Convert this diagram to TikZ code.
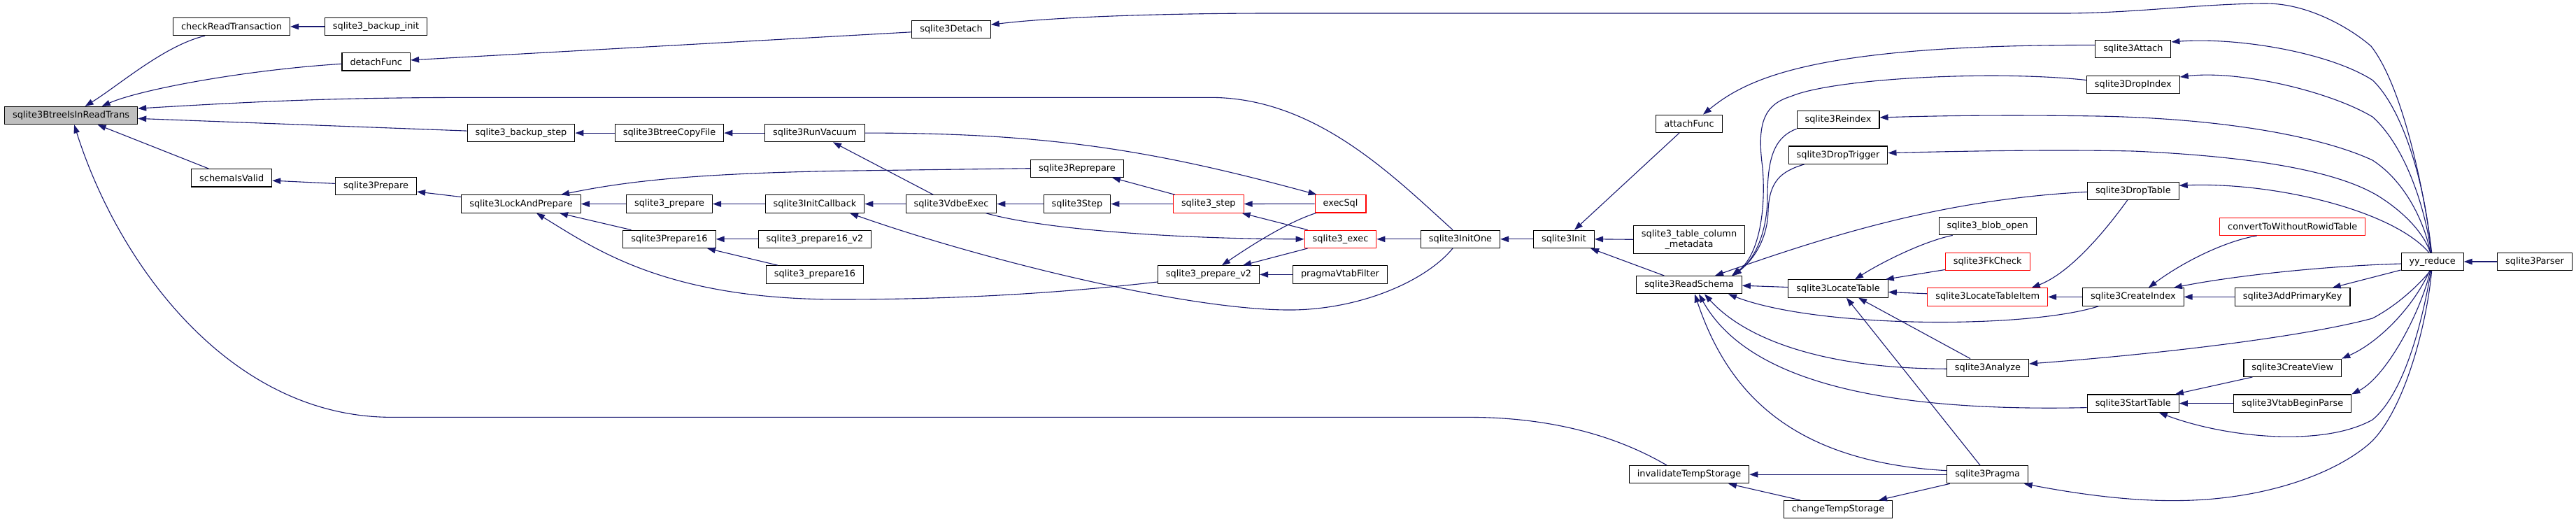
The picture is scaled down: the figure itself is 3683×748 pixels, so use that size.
\documentclass[tikz,border=0pt]{standalone}
\usepackage{fontspec}
\setmainfont{DejaVu Sans}
\usetikzlibrary{arrows.meta,calc}
\definecolor{navy}{HTML}{191970}
\definecolor{grayfill}{HTML}{BFBFBF}
\begin{document}
\begin{tikzpicture}[x=1pt,y=-1pt,
  fn/.style={draw=black, line width=1.1pt, fill=white, minimum height=25.3pt, inner xsep=11.5pt, inner ysep=0pt, font=\fontsize{12.9}{15.3}\selectfont},
  fnred/.style={fn, draw=red},
  fnmain/.style={fn, fill=grayfill},
  ca/.style={draw=navy, line width=1.1pt, {Triangle[length=12pt,width=8.5pt]}-}]
\useasboundingbox (0,0) rectangle (3683,748);
% nodes
\node[fnmain] (main) at (101.6,165.1) {sqlite3BtreeIsInReadTrans};
\node[fn] (chk) at (331,38) {checkReadTransaction};
\node[fn] (bkinit) at (537.5,38) {sqlite3\_backup\_init};
\node[fn] (detf) at (537.8,88.3) {detachFunc};
\node[fn] (siv) at (331.2,254.3) {schemaIsValid};
\node[fn] (prep) at (537.6,266) {sqlite3Prepare};
\node[fn] (bkstep) at (745,190.1) {sqlite3\_backup\_step};
\node[fn] (bcopy) at (957,190.1) {sqlite3BtreeCopyFile};
\node[fn] (rvac) at (1165,190.1) {sqlite3RunVacuum};
\node[fn] (lap) at (745,291.5) {sqlite3LockAndPrepare};
\node[fn] (s3prep) at (957,291.5) {sqlite3\_prepare};
\node[fn] (icb) at (1165,291.5) {sqlite3InitCallback};
\node[fn] (p16) at (957,341.8) {sqlite3Prepare16};
\node[fn] (p16v2) at (1165,341.8) {sqlite3\_prepare16\_v2};
\node[fn] (p16b) at (1165,392.4) {sqlite3\_prepare16};
\node[fn] (detach) at (1360,42) {sqlite3Detach};
\node[fn] (repr) at (1540,240.7) {sqlite3Reprepare};
\node[fn] (vdbe) at (1360,291.5) {sqlite3VdbeExec};
\node[fn] (sstep) at (1540,291.5) {sqlite3Step};
\node[fnred] (step) at (1727.8,291.5) {sqlite3\_step};
\node[fn] (pv2) at (1728,392.4) {sqlite3\_prepare\_v2};
\node[fnred] (exsql) at (1916.5,291.3) {execSql};
\node[fnred] (exec) at (1916.5,341.8) {sqlite3\_exec};
\node[fn] (pvf) at (1916,392.4) {pragmaVtabFilter};
\node[fn] (initone) at (2088,341.8) {sqlite3InitOne};
\node[fn] (init) at (2236,341.8) {sqlite3Init};
\node[fn] (attf) at (2415,176.8) {attachFunc};
\node[fn, align=center, minimum height=39.6pt] (tcm) at (2415,342.3) {sqlite3\_table\_column\\\_metadata};
\node[fn] (rsch) at (2415,407.2) {sqlite3ReadSchema};
\node[fn] (its) at (2415,678.2) {invalidateTempStorage};
\node[fn] (reidx) at (2628,171) {sqlite3Reindex};
\node[fn] (dtrig) at (2628,221.6) {sqlite3DropTrigger};
\node[fn] (ltab) at (2628,412.5) {sqlite3LocateTable};
\node[fn] (blob) at (2841.7,323.2) {sqlite3\_blob\_open};
\node[fnred] (fkc) at (2841.7,373.8) {sqlite3FkCheck};
\node[fnred] (lti) at (2841.7,424.4) {sqlite3LocateTableItem};
\node[fn] (anl) at (2842,525.8) {sqlite3Analyze};
\node[fn] (prag) at (2841.7,678.2) {sqlite3Pragma};
\node[fn] (cts) at (2628,728.1) {changeTempStorage};
\node[fn] (attach) at (3049.8,69.9) {sqlite3Attach};
\node[fn] (didx) at (3049.8,121) {sqlite3DropIndex};
\node[fn] (dtab) at (3049.8,272.7) {sqlite3DropTable};
\node[fn] (cidx) at (3049.8,424.4) {sqlite3CreateIndex};
\node[fn] (stab) at (3049.8,576.6) {sqlite3StartTable};
\node[fnred] (cwr) at (3277.7,323.7) {convertToWithoutRowidTable};
\node[fn] (apk) at (3277.7,424.4) {sqlite3AddPrimaryKey};
\node[fn] (cview) at (3277.8,525.8) {sqlite3CreateView};
\node[fn] (vbp) at (3277.7,576.6) {sqlite3VtabBeginParse};
\node[fn] (yy) at (3477.6,374) {yy\_reduce};
\node[fn] (parser) at (3624,374) {sqlite3Parser};
% edges
\draw[ca] ($(main.north)+(20,0)$) .. controls (170,122) and (235,65) .. ($(chk.south)+(-38,0)$);
\draw[ca] ($(main.north)+(44,0)$) .. controls (200,128) and (350,100) .. ($(detf.west)+(0,3)$);
\draw[ca] ($(main.east)+(0,-10)$) .. controls (400,143) and (500,139.3) .. (700,139.3) -- (1730,139.3) .. controls (1880,139.3) and (1990,250) .. ($(initone.north)+(-11,0)$);
\draw[ca] ($(main.east)+(0,4.3)$) -- ($(bkstep.west)+(0,-3)$);
\draw[ca] ($(main.south)+(38,0)$) -- ($(siv.north)+(-32.7,0)$);
\draw[ca] ($(main.south)+(4.5,0)$) .. controls (170,380) and (330,596.4) .. (560,596.4) -- (2100,596.4) .. controls (2250,596.4) and (2340,640) .. ($(its.north)+(-32,0)$);
\draw[ca] (chk.east) -- (bkinit.west);
\draw[ca] ($(detf.east)+(0,-2.4)$) -- ($(detach.west)+(0,3.8)$);
\draw[ca] ($(detach.east)+(0,-6.7)$) .. controls (1500,25) and (1650,19) .. (1820,19) -- (2950,19) .. controls (3050,19) and (3150,5) .. (3240,5) .. controls (3300,5) and (3360,40) .. (3390,66) .. controls (3440,130) and (3470,300) .. ($(yy.north)+(-1,0)$);
\draw[ca] ($(siv.east)+(0,3.8)$) -- ($(prep.west)+(0,-3.6)$);
\draw[ca] ($(prep.east)+(0,8)$) -- ($(lap.west)+(0,-10)$);
\draw[ca] (lap.east) -- (s3prep.west);
\draw[ca] ($(lap.south)+(55,0)$) -- ($(p16.north)+(-54.5,0)$);
\draw[ca] ($(lap.north)+(57,0)$) .. controls (900,258) and (1000,248) .. (1200,244.3) -- (repr.west);
\draw[ca] ($(lap.south)+(22,0)$) .. controls (850,355) and (950,428) .. (1200,428) .. controls (1400,428) and (1550,415) .. ($(pv2.west)+(0,10.6)$);
\draw[ca] (bkstep.east) -- (bcopy.west);
\draw[ca] (bcopy.east) -- (rvac.west);
\draw[ca] ($(rvac.south)+(26,0)$) -- ($(vdbe.north)+(-25.6,0)$);
\draw[ca] ($(exsql.north west)+(3,0)$) .. controls (1650,215) and (1500,190) .. (rvac.east);
\draw[ca] (step.east) -- (exsql.west);
\draw[ca] ($(step.south east)+(-3,0)$) -- ($(exec.north west)+(5,0)$);
\draw[ca] (exec.west) .. controls (1700,341.5) and (1500,330) .. ($(vdbe.south east)+(-16,0)$);
\draw[ca] ($(pv2.north)+(19,0)$) .. controls (1790,350) and (1840,318) .. ($(exsql.south west)+(2,0)$);
\draw[ca] ($(pv2.north)+(49,0)$) -- ($(exec.south west)+(5,0)$);
\draw[ca] (pv2.east) -- (pvf.west);
\draw[ca] (exec.east) -- (initone.west);
\draw[ca] ($(icb.south)+(50,0)$) .. controls (1400,370) and (1700,445) .. (1850,443) .. controls (1950,441) and (2040,400) .. ($(initone.south)+(-11,0)$);
\draw[ca] (icb.east) -- (vdbe.west);
\draw[ca] (vdbe.east) -- (sstep.west);
\draw[ca] (sstep.east) -- (step.west);
\draw[ca] ($(repr.south)+(50,0)$) -- ($(step.north west)+(3,0)$);
\draw[ca] (s3prep.east) -- (icb.west);
\draw[ca] (p16.east) -- (p16v2.west);
\draw[ca] ($(p16.south)+(54,0)$) -- ($(p16b.north)+(-53,0)$);
\draw[ca] (initone.east) -- (init.west);
\draw[ca] ($(init.north)+(15,0)$) -- ($(attf.south)+(-14,0)$);
\draw[ca] (init.east) -- (tcm.west);
\draw[ca] ($(init.south east)+(-6,0)$) -- ($(rsch.north)+(-35.7,0)$);
\draw[ca] ($(attf.north)+(20,0)$) .. controls (2500,110) and (2600,64) .. ($(attach.west)+(0,-5.5)$);
\draw[ca] ($(attach.east)+(0,-10)$) .. controls (3200,53) and (3330,75) .. (3392,114.5) .. controls (3440,160) and (3470,280) .. ($(yy.north)+(-2,0)$);
\draw[ca] ($(didx.east)+(0,-11)$) .. controls (3200,100) and (3330,130) .. (3392,167) .. controls (3440,210) and (3468,300) .. ($(yy.north)+(-2,0)$);
\draw[ca] ($(rsch.north)+(61,0)$) .. controls (2515,365) and (2525,300) .. (2520,240) .. controls (2512,180) and (2520,150) .. (2560,138) .. controls (2620,112) and (2850,100) .. ($(didx.west)+(0,-6.5)$);
\draw[ca] ($(rsch.north)+(62,0)$) .. controls (2510,370) and (2527,330) .. (2527,280) .. controls (2527,220) and (2540,195) .. (reidx.south west);
\draw[ca] ($(rsch.north)+(63,0)$) .. controls (2515,365) and (2528,330) .. (2528,300) .. controls (2530,260) and (2545,245) .. ($(dtrig.south)+(-48,0)$);
\draw[ca] ($(reidx.east)+(0,-3)$) .. controls (2800,164.5) and (2900,164.5) .. (3000,166) .. controls (3200,170) and (3330,200) .. (3392,229) .. controls (3440,260) and (3467,320) .. ($(yy.north)+(-3,0)$);
\draw[ca] ($(dtrig.east)+(0,-3)$) .. controls (2850,215) and (2950,214) .. (3050,216) .. controls (3250,225) and (3350,250) .. (3400,280) .. controls (3440,305) and (3466,335) .. ($(yy.north)+(-3,0)$);
\draw[ca] ($(rsch.north)+(37,0)$) .. controls (2620,335) and (2780,285) .. ($(dtab.west)+(0,1.6)$);
\draw[ca] ($(dtab.east)+(0,-7.5)$) .. controls (3250,260) and (3420,300) .. ($(yy.north)+(-5,0)$);
\draw[ca] ($(lti.north)+(63,0)$) .. controls (2960,390) and (3010,330) .. ($(dtab.south)+(-8,0)$);
\draw[ca] ($(rsch.east)+(0,1)$) -- ($(ltab.west)+(0,-2)$);
\draw[ca] ($(ltab.north)+(24,0)$) .. controls (2690,375) and (2750,345) .. ($(blob.south)+(-50,0)$);
\draw[ca] ($(ltab.north east)+(-4,0)$) -- ($(fkc.west)+(0,11.7)$);
\draw[ca] ($(ltab.east)+(0,5)$) -- ($(lti.west)+(0,-4.6)$);
\draw[ca] ($(ltab.south)+(29,0)$) -- ($(anl.north)+(-25,0)$);
\draw[ca] ($(ltab.south)+(12,0)$) -- ($(prag.north)+(-10.7,0)$);
\draw[ca] (lti.east) -- (cidx.west);
\draw[ca] ($(rsch.south)+(56,0)$) .. controls (2600,470) and (2900,470) .. ($(cidx.south)+(-49,0)$);
\draw[ca] ($(rsch.south)+(22,0)$) .. controls (2500,490) and (2620,527) .. ($(anl.west)+(0,1.4)$);
\draw[ca] ($(rsch.south)+(14,0)$) .. controls (2490,530) and (2650,590) .. ($(stab.west)+(0,6)$);
\draw[ca] ($(rsch.south)+(8,0)$) .. controls (2470,560) and (2560,660) .. ($(prag.west)+(0,-5.5)$);
\draw[ca] (its.east) -- (prag.west);
\draw[ca] ($(its.south)+(56,0)$) -- ($(cts.north)+(-54,0)$);
\draw[ca] ($(cts.north)+(58,0)$) -- ($(prag.south)+(-54,0)$);
\draw[ca] ($(prag.south)+(52,0)$) .. controls (2980,708) and (3050,716) .. (3110,715.6) .. controls (3250,715) and (3350,670) .. (3392,630) .. controls (3440,580) and (3470,460) .. ($(yy.south)+(-1,0)$);
\draw[ca] ($(anl.east)+(0,-5.8)$) .. controls (3100,505) and (3300,480) .. (3392,455) .. controls (3430,435) and (3460,405) .. ($(yy.south)+(-3,0)$);
\draw[ca] ($(stab.south)+(37,0)$) .. controls (3180,625) and (3320,640) .. (3392,600) .. controls (3440,560) and (3465,450) .. ($(yy.south)+(-2,0)$);
\draw[ca] ($(stab.north east)+(-6,0)$) -- ($(cview.south west)+(13,0)$);
\draw[ca] (stab.east) -- (vbp.west);
\draw[ca] (cview.north east) .. controls (3400,490) and (3450,440) .. ($(yy.south)+(-4,0)$);
\draw[ca] (vbp.north east) .. controls (3410,540) and (3460,450) .. ($(yy.south)+(-3,0)$);
\draw[ca] ($(cidx.north)+(22,0)$) .. controls (3120,375) and (3180,345) .. ($(cwr.south)+(-51,0)$);
\draw[ca] ($(cidx.north)+(58,0)$) .. controls (3200,393) and (3330,380) .. ($(yy.west)+(0,3)$);
\draw[ca] (cidx.east) -- (apk.west);
\draw[ca] ($(apk.north)+(57,0)$) -- ($(yy.west)+(0,12)$);
\draw[ca] (yy.east) -- (parser.west);
\end{tikzpicture}
\end{document}
